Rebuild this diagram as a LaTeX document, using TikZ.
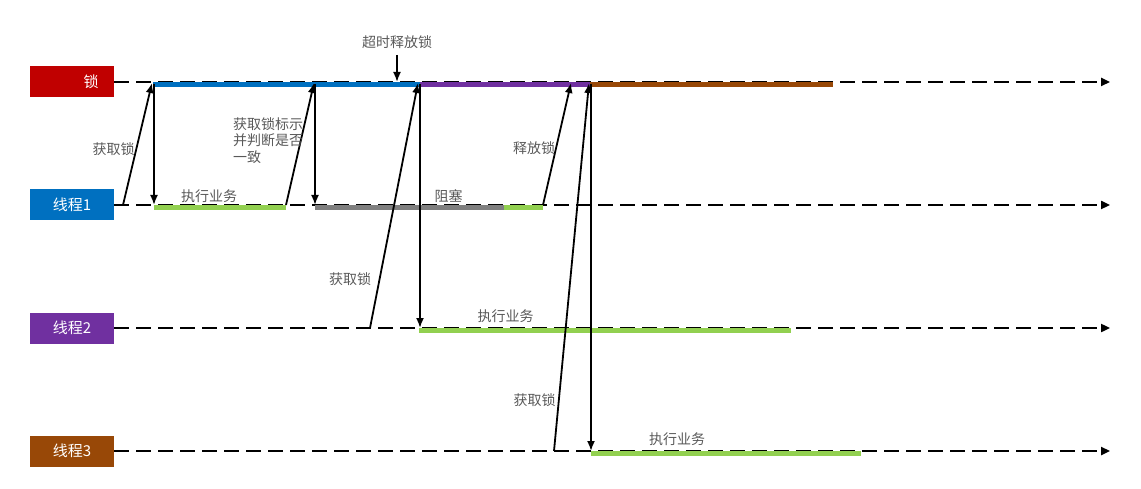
\documentclass[tikz,border=0pt]{standalone}
\usepackage{fontspec}
\newfontfamily\cjk{Noto Sans CJK SC}
\usetikzlibrary{arrows.meta}
\definecolor{rouge}{HTML}{C00000}
\definecolor{bleu}{HTML}{0070C0}
\definecolor{violet}{HTML}{7030A0}
\definecolor{brun}{HTML}{984807}
\definecolor{vert}{HTML}{92D050}
\definecolor{gris}{HTML}{7F7F7F}
\definecolor{encre}{HTML}{595959}
\tikzset{
    boite/.style={minimum width=84pt, minimum height=31pt, inner sep=0pt, text=white, font=\cjk\fontsize{15}{18}\selectfont},
    ligne/.style={line width=2.3pt, dash pattern=on 15pt off 7pt, -{Triangle[length=9pt,width=8pt]}},
    fleche/.style={line width=1.8pt, -{Latex[length=10pt,width=8pt]}},
    bande/.style={line width=5pt},
    texte/.style={text=encre, font=\cjk\fontsize{14}{16.5}\selectfont, inner sep=0pt},
  }
\begin{document}
\begin{tikzpicture}[x=1pt,y=-1pt]
				  \useasboundingbox (0,0) rectangle (1141,489);
				  %boites
				  \node[boite,fill=rouge] (verrou) at (72,82) {\hspace*{38pt}锁};
				  \node[boite,fill=bleu] (th1) at (72,205) {线程1};
				  \node[boite,fill=violet] (th2) at (72,328) {线程2};
				  \node[boite,fill=brun] (th3) at (72,451) {线程3};

				  %lignes de temps
				  \coordinate (fv) at (1110,82);
				  \coordinate (f1) at (1110,205);
				  \coordinate (f2) at (1110,328);
				  \coordinate (f3) at (1110,451);
				  \draw[ligne] (verrou.east) -- (fv);
				  \draw[ligne] (th1.east) -- (f1);
				  \draw[ligne] (th2.east) -- (f2);
				  \draw[ligne] (th3.east) -- (f3);

				  %etats du verrou
				  \draw[bande,bleu] (153,84.5) -- (420,84.5);
				  \draw[bande,violet] (420,84.5) -- (590,84.5);
				  \draw[bande,brun] (590,84.5) -- (833,84.5);
				  %etats des threads
				  \draw[bande,vert] (154,207.5) -- (286,207.5);
				  \draw[bande,gris] (315,207.5) -- (504,207.5);
				  \draw[bande,vert] (504,207.5) -- (543,207.5);
				  \draw[bande,vert] (419,330.5) -- (791,330.5);
				  \draw[bande,vert] (591,453.5) -- (861,453.5);

				  %thread 1
				  \coordinate (a1) at (123,205);
				  \coordinate (b1) at (152,83);
				  \draw[fleche] (a1) -- (b1);
				  \coordinate (c1) at (154,84);
				  \coordinate (d1) at (154,205);
				  \draw[fleche] (c1) -- (d1);
				  \node[texte] (l1) at (113.5,149) {获取锁};
				  \node[texte] (e1) at (209,196) {执行业务};

				  \coordinate (a2) at (286,205);
				  \coordinate (b2) at (314,83);
				  \draw[fleche] (a2) -- (b2);
				  \coordinate (c2) at (315,84);
				  \coordinate (d2) at (315,205);
				  \draw[fleche] (c2) -- (d2);
				  \node[texte,align=left,anchor=north west] (l2) at (233,117) {获取锁标示\\并判断是否\\一致};
				  \node[texte] (bl) at (448.5,196) {阻塞};

				  %timeout
				  \node[texte] (to) at (397,42) {超时释放锁};
				  \coordinate (tv) at (397,82);
				  \draw[fleche] (397,55) -- (tv);

				  %thread 2
				  \coordinate (a3) at (370,328);
				  \coordinate (b3) at (418,83);
				  \draw[fleche] (a3) -- (b3);
				  \coordinate (c3) at (420,84);
				  \coordinate (d3) at (420,328);
				  \draw[fleche] (c3) -- (d3);
				  \node[texte] (l3) at (350,279) {获取锁};
				  \node[texte] (e3) at (505.5,316) {执行业务};

				  %liberation
				  \coordinate (a4) at (543,205);
				  \coordinate (b4) at (571,83);
				  \draw[fleche] (a4) -- (b4);
				  \node[texte] (l4) at (534,148) {释放锁};

				  %thread 3
				  \coordinate (a5) at (554,451);
				  \coordinate (b5) at (589,83);
				  \draw[fleche] (a5) -- (b5);
				  \coordinate (c5) at (591,84);
				  \coordinate (d5) at (591,451);
				  \draw[fleche] (c5) -- (d5);
				  \node[texte] (l5) at (534.5,400) {获取锁};
				  \node[texte] (e5) at (677,439) {执行业务};
\end{tikzpicture}
\end{document}
